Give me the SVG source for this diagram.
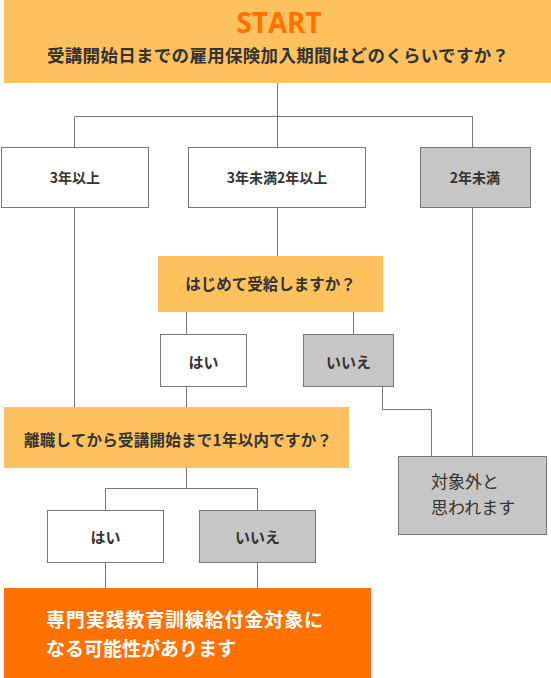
<svg xmlns="http://www.w3.org/2000/svg" width="551" height="678" viewBox="0 0 551 678">
<style>
text{font-family:"Noto Sans CJK JP","Noto Sans",sans-serif;fill:#333;}
.b{font-weight:bold;}
.w{fill:#fff;stroke:#777;stroke-width:1;}
.g{fill:#c6c6c6;stroke:#777;stroke-width:1;}
.y{fill:#fdc25e;}
.o{fill:#ff7200;}
.ln{fill:none;stroke:#777;stroke-width:1;}
</style>
<rect x="0" y="0" width="551" height="678" fill="#fff"/>
<g id="connectors" class="ln">
<path d="M277.5 83V116.5M74.5 116.5H472.5M74.5 116.5V147M277.5 116.5V147M472.5 116.5V147"/>
<path d="M74.5 207V407M277.5 207V256M472.5 207V456"/>
<path d="M186.5 312V334M353.5 312V334M186.5 386V407"/>
<path d="M382.5 386V409.5H431.5V456"/>
<path d="M186.5 468V488.5M105.5 488.5H257.5M105.5 488.5V510M257.5 488.5V510"/>
<path d="M105.5 562V588M257.5 562V588"/>
</g>
<g id="start">
<rect class="y" x="4" y="0" width="547" height="83"/>
<text x="279" y="33" font-family="'Open Sans',sans-serif" class="b" font-size="28" style="fill:#ff7200;font-family:'Open Sans',sans-serif" text-anchor="middle" textLength="85" lengthAdjust="spacingAndGlyphs">START</text>
<text x="278" y="62" class="b" font-size="17.5" text-anchor="middle" textLength="462">受講開始日までの雇用保険加入期間はどのくらいですか？</text>
</g>
<g id="n1">
<rect class="w" x="1.5" y="147.5" width="147" height="60"/>
<text x="75" y="183" class="b" font-size="14" text-anchor="middle">3年以上</text>
</g>
<g id="n2">
<rect class="w" x="188.5" y="147.5" width="177" height="60"/>
<text x="277" y="183" class="b" font-size="14" text-anchor="middle">3年未満2年以上</text>
</g>
<g id="n3">
<rect class="g" x="420.5" y="147.5" width="110" height="60"/>
<text x="475" y="183" class="b" font-size="14" text-anchor="middle">2年未満</text>
</g>
<g id="q2">
<rect class="y" x="158" y="256" width="225" height="56"/>
<text x="270.5" y="290" class="b" font-size="15.5" text-anchor="middle">はじめて受給しますか？</text>
</g>
<g id="yes1">
<rect class="w" x="160.5" y="334.5" width="86" height="52"/>
<text x="203.5" y="368" class="b" font-size="15" text-anchor="middle">はい</text>
</g>
<g id="no1">
<rect class="g" x="303.5" y="334.5" width="90" height="52"/>
<text x="348.5" y="368" class="b" font-size="15" text-anchor="middle">いいえ</text>
</g>
<g id="q3">
<rect class="y" x="4" y="407" width="345" height="61"/>
<text x="178" y="446" class="b" font-size="15.5" text-anchor="middle" textLength="308">離職してから受講開始まで1年以内ですか？</text>
</g>
<g id="out">
<rect class="g" x="398.5" y="456.5" width="148" height="78"/>
<text x="431" y="488" font-size="17">対象外と</text>
<text x="431" y="514" font-size="17">思われます</text>
</g>
<g id="yes2">
<rect class="w" x="47.5" y="510.5" width="116" height="52"/>
<text x="105.5" y="543" class="b" font-size="15" text-anchor="middle">はい</text>
</g>
<g id="no2">
<rect class="g" x="199.5" y="510.5" width="116" height="52"/>
<text x="257.5" y="543" class="b" font-size="15" text-anchor="middle">いいえ</text>
</g>
<g id="result">
<rect class="o" x="4" y="588" width="367" height="90"/>
<text x="46" y="627" class="b" font-size="19" style="fill:#fff" textLength="277">専門実践教育訓練給付金対象に</text>
<text x="46" y="656" class="b" font-size="19" style="fill:#fff">なる可能性があります</text>
</g>
</svg>
